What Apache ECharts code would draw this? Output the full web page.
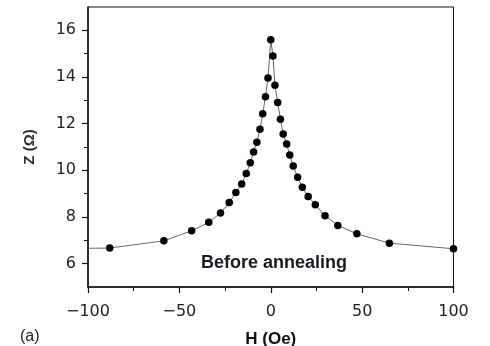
<!DOCTYPE html>
<html>
<head>
<meta charset="utf-8">
<script src="https://cdn.jsdelivr.net/npm/echarts@6/dist/echarts.min.js"></script>
<style>html,body{margin:0;padding:0;background:#fff}#c{width:490px;height:346px}</style>
</head>
<body>
<div id="c"></div>
<script>
// Field H (Oe)
const hValues = [-100, -88.1, -58.5, -43.3, -33.9, -27.5, -22.7, -19.1, -15.9, -13.4, -11.2, -9.4, -7.6, -5.9, -4.4, -2.9, -1.5, 0,
  1.2, 2.3, 3.8, 5.3, 6.8, 8.7, 10.4, 12.3, 14.7, 17.3, 20.5, 24.4, 29.7, 36.7, 47.1, 64.9, 100];
// Impedance Z (Ohm)
const zValues = [6.66, 6.67, 6.98, 7.41, 7.77, 8.17, 8.62, 9.05, 9.41, 9.86, 10.32, 10.79, 11.2, 11.76, 12.42, 13.15, 13.96, 15.6,
  14.9, 13.65, 12.91, 12.19, 11.56, 11.13, 10.66, 10.19, 9.7, 9.28, 8.88, 8.52, 8.05, 7.64, 7.28, 6.88, 6.64];
const xTicks = [-100, -50, 0, 50, 100];
const yTicks = [6, 8, 10, 12, 14, 16];
const yMinorTicks = [7, 9, 11, 13, 15];
const annotation = 'Before annealing';
const panelLabel = '(a)';

const data = hValues.map((h, i) => {
  const d = { value: [h, zValues[i]] };
  if (i === 0) d.symbol = 'none';
  return d;
});

const chart = echarts.init(document.getElementById('c'), null, { renderer: 'canvas' });
const font = 'DejaVu Sans';
chart.setOption({
  animation: false,
  grid: { left: 88, right: 36.5, top: 7, bottom: 59, show: true, borderColor: '#111', borderWidth: 1,
    backgroundColor: 'transparent', containLabel: false, outerBoundsMode: 'none' },
  xAxis: {
    type: 'value', min: -100, max: 100, interval: 50,
    name: 'H (Oe)', nameLocation: 'middle', nameGap: 44,
    nameTextStyle: { fontFamily: 'Liberation Sans', fontWeight: 'bold', fontSize: 17, color: '#111' },
    axisLine: { show: true, onZero: false, lineStyle: { color: '#111', width: 1.5 } },
    axisTick: { show: true, length: 6, lineStyle: { color: '#111', width: 1.2 } },
    minorTick: { show: true, splitNumber: 2, length: 4, lineStyle: { color: '#111', width: 1 } },
    splitLine: { show: false },
    axisLabel: { fontFamily: font, fontSize: 16, color: '#222', margin: 17,
      formatter: v => (v < 0 ? '\u2212' + Math.abs(v) : String(v)) }
  },
  yAxis: [{
    type: 'value', min: 5, max: 17, interval: 1,
    name: 'Z (\u03A9)', nameLocation: 'middle', nameGap: 51, nameRotate: 90,
    nameTextStyle: { fontFamily: 'Liberation Sans', fontWeight: 'bold', fontSize: 15, color: '#2e2a30' },
    axisLine: { show: true, onZero: false, lineStyle: { color: '#111', width: 1.5 } },
    axisTick: { show: true, length: 6, customValues: yTicks, lineStyle: { color: '#111', width: 1.2 } },
    splitLine: { show: false },
    axisLabel: { fontFamily: font, fontSize: 16, color: '#222', margin: 12, customValues: yTicks }
  }, {
    type: 'value', min: 5, max: 17, interval: 1, position: 'left',
    axisLine: { show: false, onZero: false },
    axisTick: { show: true, length: 4, customValues: yMinorTicks, lineStyle: { color: '#111', width: 1 } },
    splitLine: { show: false },
    axisLabel: { show: false }
  }],
  graphic: [
    { type: 'text', left: 201, top: 254, style: { text: annotation, font: 'bold 18px "Liberation Sans"', fill: '#1a1a22' } },
    { type: 'text', left: 20, top: 329, style: { text: panelLabel, font: '16px "Liberation Sans"', fill: '#222' } }
  ],
  series: [{
    type: 'line', data: data,
    symbol: 'circle', symbolSize: 7.5,
    itemStyle: { color: '#000' },
    lineStyle: { color: '#666', width: 1 },
    clip: false
  }]
});
</script>
</body>
</html>
